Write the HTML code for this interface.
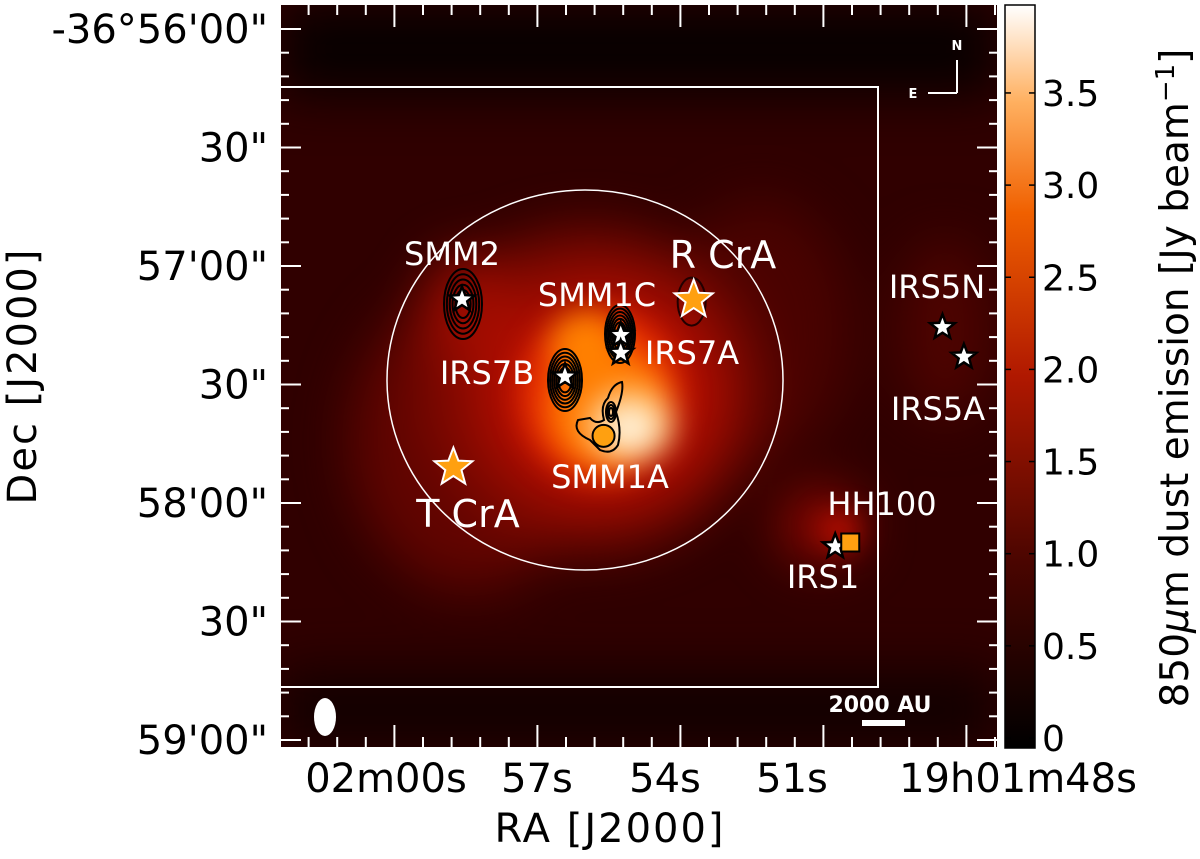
<!DOCTYPE html>
<html><head><meta charset="utf-8"><style>
body{margin:0;background:#fff;width:1200px;height:854px;overflow:hidden;font-family:"Liberation Sans","DejaVu Sans",sans-serif}
svg text{font-family:"DejaVu Sans","Liberation Sans",sans-serif}
</style></head><body>
<svg id="chart" width="1200" height="854" viewBox="0 0 1200 854">
<defs>
<filter id="blur" x="-50%" y="-50%" width="200%" height="200%" color-interpolation-filters="sRGB"><feGaussianBlur stdDeviation="26"/></filter>
<filter id="blur2" x="-50%" y="-50%" width="200%" height="200%" color-interpolation-filters="sRGB"><feGaussianBlur stdDeviation="14"/></filter>
<linearGradient id="cbar" x1="0" y1="1" x2="0" y2="0">
<stop offset="0" stop-color="#000"/><stop offset="0.25" stop-color="#4a0500"/><stop offset="0.5" stop-color="#b01800"/>
<stop offset="0.72" stop-color="#f06000"/><stop offset="0.87" stop-color="#ffb060"/><stop offset="1" stop-color="#fff"/>
</linearGradient>
<clipPath id="clip"><rect x="280" y="4" width="718" height="744"/></clipPath>
</defs>
<g clip-path="url(#clip)">
<rect x="280" y="4" width="718" height="744" fill="#300000"/>
<g filter="url(#blur)">
<rect x="280" y="4" width="718" height="90" fill="#070000"/>
<rect x="280" y="670" width="718" height="80" fill="#120000"/>
<ellipse cx="470" cy="440" rx="120" ry="150" fill="#600400"/>
<ellipse cx="760" cy="330" rx="90" ry="130" fill="#4a0200"/>
<ellipse cx="590" cy="390" rx="170" ry="160" fill="#800800"/>
<ellipse cx="600" cy="395" rx="120" ry="110" fill="#b40e00"/>
<ellipse cx="820" cy="525" rx="40" ry="35" fill="#900800"/>
<ellipse cx="945" cy="330" rx="45" ry="90" fill="#4e0300"/>
<ellipse cx="470" cy="310" rx="45" ry="55" fill="#a00c00"/>
</g>
<g filter="url(#blur2)">
<ellipse cx="600" cy="395" rx="80" ry="85" fill="#e83000"/>
<ellipse cx="610" cy="410" rx="62" ry="62" fill="#ff7a00"/>
<ellipse cx="585" cy="345" rx="35" ry="35" fill="#ff8000"/>
<ellipse cx="630" cy="425" rx="45" ry="38" fill="#ffc070"/>
<ellipse cx="630" cy="428" rx="26" ry="22" fill="#fff0d8"/>
<ellipse cx="840" cy="530" rx="18" ry="16" fill="#c81000"/>
</g>
</g>
<g id="ticks" stroke="#fff" stroke-width="2"></g>
<rect x="280" y="4" width="718" height="744" fill="none" stroke="#fff" stroke-width="2"/>
<polyline points="281,87 878,87 878,687 281,687" fill="none" stroke="#fff" stroke-width="2"/>
<ellipse cx="585" cy="380" rx="198" ry="190" fill="none" stroke="#fff" stroke-width="1.5"/>
<g id="contours" fill="none" stroke="#000" stroke-width="2"></g>
<g id="sources"></g>
<ellipse cx="325" cy="717" rx="11" ry="19" fill="#fff"/>
<text x="880" y="712" fill="#fff" font-size="22" font-weight="bold" text-anchor="middle">2000 AU</text>
<rect x="862" y="720" width="43" height="6" fill="#fff"/>
<g stroke="#fff" stroke-width="2" fill="#fff">
<line x1="957" y1="93" x2="957" y2="60"/><line x1="957" y1="93" x2="928" y2="93"/>
<text x="957" y="50" font-size="13" font-weight="bold" text-anchor="middle" stroke="none">N</text>
<text x="913" y="98" font-size="13" font-weight="bold" text-anchor="middle" stroke="none">E</text>
</g>
<rect x="1005" y="5" width="30" height="743" fill="url(#cbar)" stroke="#000" stroke-width="1.5"/>
<g id="cbticks"></g>
<g id="labels" font-size="40" fill="#000"></g>
<text x="610" y="842" font-size="40" letter-spacing="2" text-anchor="middle">RA [J2000]</text>
<text transform="translate(36,376) rotate(-90)" font-size="40" letter-spacing="2" text-anchor="middle">Dec [J2000]</text>
<text transform="translate(1188,378) rotate(-90)" font-size="39" text-anchor="middle">850<tspan font-style="italic">μ</tspan>m dust emission [Jy beam<tspan dy="-14" font-size="26">−1</tspan><tspan dy="14">]</tspan></text>
</svg>
<script>
const NS='http://www.w3.org/2000/svg';
const raTickLabels=['02m00s','57s','54s','51s','19h01m48s'];
const raTickSecs=[60,57,54,51,48];
const decTickLabels=['-36°56\'00"','30"','57\'00"','30"','58\'00"','30"','59\'00"'];
const decTickOffsets=[0,30,60,90,120,150,180];
const cbTickLabels=['0','0.5','1.0','1.5','2.0','2.5','3.0','3.5'];
const cbTickValues=[0,0.5,1,1.5,2,2.5,3,3.5];
const srcNames=['SMM2','R CrA','SMM1C','IRS7A','IRS7B','SMM1A','T CrA','IRS1','HH100','IRS5N','IRS5A'];
const srcRA=[59.2,53.8,55.5,55.5,56.8,55.9,59.4,50.5,50.15,48.0,47.5];
const srcDec=[68.5,68.5,77.5,82,88,103,111,131,130,75.5,83];
const srcType=['star','ostar','star','star','star','circle','ostar','star','square','star','star'];
const xS=s=>462+(59.2-s)*42.9;
const yS=d=>29+d*3.95;
const cS=v=>738-v*184.3;
function el(t,a,p){const e=document.createElementNS(NS,t);for(const k in a)e.setAttribute(k,a[k]);p.appendChild(e);return e;}
const tk=document.getElementById('ticks'),lb=document.getElementById('labels');
for(let i=0;i<=25;i++){const x=280+i*28.6;const maj=i%5==4;const L=maj?22:10;
 let e=el('line',{x1:x,y1:5,x2:x,y2:5+L},tk);
 e=el('line',{x1:x,y1:747,x2:x,y2:747-L},tk);}
for(let i=0;i<=31;i++){const y=yS(i*6);const maj=i%5==0;const L=maj?20:8;
 let e=el('line',{x1:281,y1:y,x2:281+L,y2:y},tk);
 e=el('line',{x1:997,y1:y,x2:997-L,y2:y},tk);}
const raLabelX=[386,537,665,792,1018];
raTickLabels.forEach((t,i)=>{const e=el('text',{x:raLabelX[i],y:792,'text-anchor':'middle'},lb);e.textContent=t;
 });
decTickLabels.forEach((t,i)=>{const e=el('text',{x:268,y:yS(decTickOffsets[i])+14,'text-anchor':'end'},lb);e.textContent=t;
 });
const cb=document.getElementById('cbticks');
cbTickValues.forEach((v,i)=>{const y=cS(v);
 el('line',{x1:1005,y1:y,x2:1011,y2:y,stroke:'#000','stroke-width':1.5},cb);el('line',{x1:1029,y1:y,x2:1035,y2:y,stroke:'#000','stroke-width':1.5},cb);
 const e=el('text',{x:1042,y:y+13,'font-size':36},cb);e.textContent=cbTickLabels[i];
 });
const ct=document.getElementById('contours');
function rings(cx,cy,rx,ry,n,frac){for(let k=0;k<n;k++){const f=1-k*frac;el('ellipse',{cx:cx,cy:cy,rx:rx*f,ry:ry*f},ct);}}
rings(463,304,19,35,5,0.15);
rings(620,334,15,29,6,0.12);
rings(565,380,17,31,6,0.12);
el('ellipse',{cx:xS(srcRA[1])-2,cy:yS(srcDec[1])+2,rx:14,ry:24,stroke:'#200','stroke-width':2},ct);
el('path',{d:'M578,420 Q572,432 590,440 L600,450 Q612,455 618,445 Q622,430 616,412 Q624,392 622,382 Q612,384 608,398 Q600,405 604,420 Q596,425 590,418 Z'},ct);
rings(611,412,5,10,3,0.3);
const sg=document.getElementById('sources');
function starPts(cx,cy,R,r){let p=[];for(let i=0;i<10;i++){const a=-Math.PI/2+i*Math.PI/5;const rr=i%2?r:R;p.push((cx+rr*Math.cos(a)).toFixed(1)+','+(cy+rr*Math.sin(a)).toFixed(1));}return p.join(' ');}
srcNames.forEach((n,i)=>{const x=xS(srcRA[i]),y=yS(srcDec[i]);let e;
 if(srcType[i]=='star')e=el('polygon',{points:starPts(x,y,13,5.5),fill:'#fff',stroke:'#000','stroke-width':2.5},sg);
 else if(srcType[i]=='ostar')e=el('polygon',{points:starPts(x,y,20,8.5),fill:'#ffa010',stroke:'#fff','stroke-width':2},sg);
 else if(srcType[i]=='circle')e=el('circle',{cx:x,cy:y,r:11,fill:'#ffa010',stroke:'#000','stroke-width':2},sg);
 else e=el('rect',{x:x-9,y:y-9,width:18,height:18,fill:'#ffa010',stroke:'#000','stroke-width':2},sg);
 
 });
const lblText=['SMM2','R CrA','SMM1C','IRS7A','IRS7B','SMM1A','T CrA','IRS1','HH100','IRS5N','IRS5A'];
const lblX=[452,723,597,692,487,610,468,823,882,937,938];
const lblY=[265,268,306,364,384,488,527,588,515,298,420];
const lblSize=[32,38,32,32,32,32,38,32,32,32,32];
lblText.forEach((t,i)=>{const e=el('text',{x:lblX[i],y:lblY[i],'font-size':lblSize[i],fill:'#fff','text-anchor':'middle'},sg);e.textContent=t;
 });
</script>
</body></html>
